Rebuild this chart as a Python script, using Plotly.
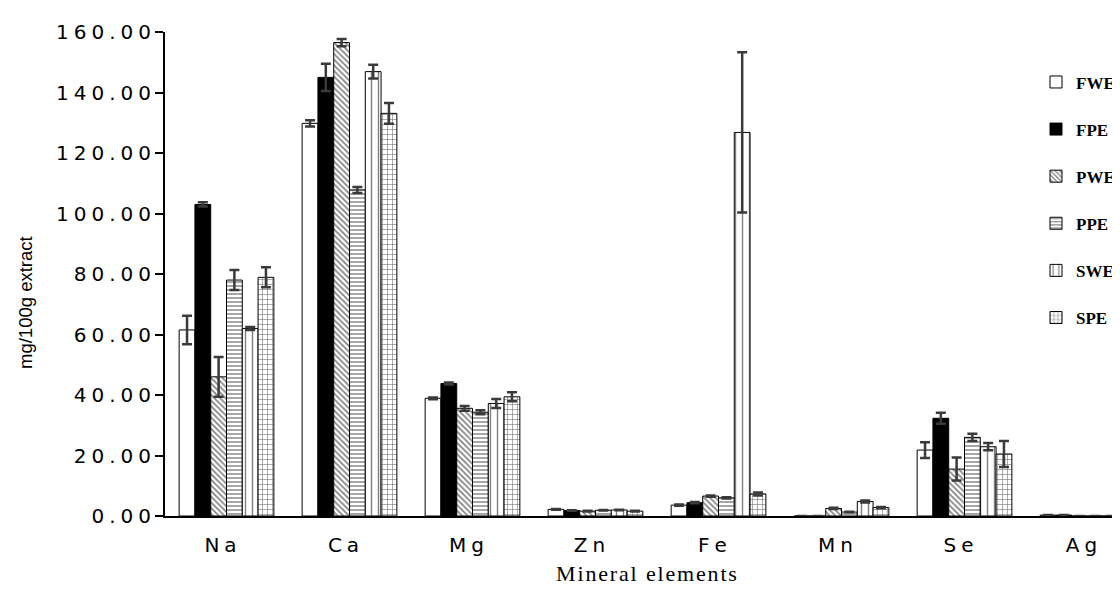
import plotly.graph_objects as go

elements = ["Na", "Ca", "Mg", "Zn", "Fe", "Mn", "Se", "Ag"]
series_names = ["FWE", "FPE", "PWE", "PPE", "SWE", "SPE"]

FWE = [61.5, 129.8, 38.9, 2.2, 3.6, 0.0, 21.8, 0.3]
FPE = [103.0, 145.0, 43.8, 1.8, 4.4, 0.0, 32.3, 0.3]
PWE = [46.0, 156.5, 35.6, 1.6, 6.6, 2.5, 15.5, 0.0]
PPE = [78.0, 107.8, 34.3, 1.9, 6.0, 1.3, 26.0, 0.0]
SWE = [62.0, 146.9, 37.2, 2.0, 126.8, 4.8, 22.9, 0.0]
SPE = [78.9, 133.1, 39.4, 1.6, 7.3, 2.8, 20.5, 0.0]

FWE_err = [4.7, 1.0, 0.3, 0.1, 0.2, 0.0, 2.6, 0.0]
FPE_err = [0.7, 4.5, 0.3, 0.1, 0.2, 0.0, 1.8, 0.0]
PWE_err = [6.6, 1.2, 0.8, 0.1, 0.2, 0.2, 3.8, 0.0]
PPE_err = [3.3, 1.0, 0.7, 0.1, 0.2, 0.1, 1.2, 0.0]
SWE_err = [0.5, 2.3, 1.5, 0.1, 26.5, 0.3, 1.2, 0.0]
SPE_err = [3.3, 3.4, 1.5, 0.1, 0.5, 0.2, 4.3, 0.0]

y_ticks = [0, 20, 40, 60, 80, 100, 120, 140, 160]

values = [FWE, FPE, PWE, PPE, SWE, SPE]
errors = [FWE_err, FPE_err, PWE_err, PPE_err, SWE_err, SPE_err]

SP = "\u2005"  # spacing to mimic the wide letter spacing of the original
y_ticktext = [SP.join(f"{v:.2f}") for v in y_ticks]
x_ticktext = [SP.join(e) for e in elements]

styles = [
    dict(color="white", pattern=dict(shape="")),
    dict(color="black", pattern=dict(shape="")),
    dict(color="white", pattern=dict(shape="\\", fgcolor="black", size=4, solidity=0.4)),
    dict(color="white", pattern=dict(shape="-", fgcolor="black", size=4, solidity=0.35)),
    dict(color="white", pattern=dict(shape="|", fgcolor="black", size=7, solidity=0.2)),
    dict(color="white", pattern=dict(shape="+", fgcolor="black", size=5, solidity=0.25)),
]

# page body has ~8px margin, so figure coordinates are shifted accordingly
L, T, B = 157, 24, 82
W, H = 1120, 590
plot_w = W - L
plot_h = H - T - B
cat_px = 123

fig = go.Figure()
for i, name in enumerate(series_names):
    st = styles[i]
    fig.add_trace(go.Bar(
        name=name,
        x=elements,
        y=values[i],
        legendgroup=name,
        marker=dict(color=st["color"], line=dict(color="black", width=1),
                    pattern=st["pattern"]),
        error_y=dict(type="data", array=errors[i], visible=True,
                     color="#3a3a3a", thickness=2.5, width=5),
    ))

fig.add_annotation(
    text="mg/100g extract", textangle=-90,
    xref="paper", yref="paper",
    x=(25 - 165) / plot_w, y=(516 - 303) / plot_h,
    xanchor="center", yanchor="middle", showarrow=False,
    font=dict(size=18.5, family="Liberation Sans, Arial", color="black"),
)

fig.update_layout(
    width=W, height=H,
    paper_bgcolor="white", plot_bgcolor="white",
    margin=dict(l=L, r=0, t=T, b=B, autoexpand=False),
    barmode="group", bargap=0.23, bargroupgap=0,
    font=dict(family="Liberation Sans, Arial", color="black"),
    legend=dict(x=(1036 - 165) / plot_w, y=0.933, xanchor="left", yanchor="top",
                font=dict(family="Liberation Serif, Times New Roman", size=17,
                          color="black", weight="bold"),
                tracegroupgap=22, bgcolor="rgba(0,0,0,0)",
                itemwidth=30),
    xaxis=dict(
        range=[-0.5, -0.5 + plot_w / cat_px],
        tickvals=elements, ticktext=x_ticktext,
        showline=True, linecolor="black", linewidth=2,
        ticks="", tickfont=dict(size=20, family="DejaVu Sans"),
        ticklabelstandoff=10, ticklabelshift=-6,
        title=dict(text="\u200a".join("Mineral elements"),
                   font=dict(family="Liberation Serif, Times New Roman", size=22),
                   standoff=10),
        showgrid=False,
    ),
    yaxis=dict(
        range=[0, 160], tickvals=y_ticks, ticktext=y_ticktext,
        showline=True, linecolor="black", linewidth=2,
        ticks="outside", ticklen=8, tickwidth=2, tickcolor="black",
        tickfont=dict(size=20, family="DejaVu Sans"),
        showgrid=False, zeroline=False,
    ),
)

fig.write_html("out.html")
